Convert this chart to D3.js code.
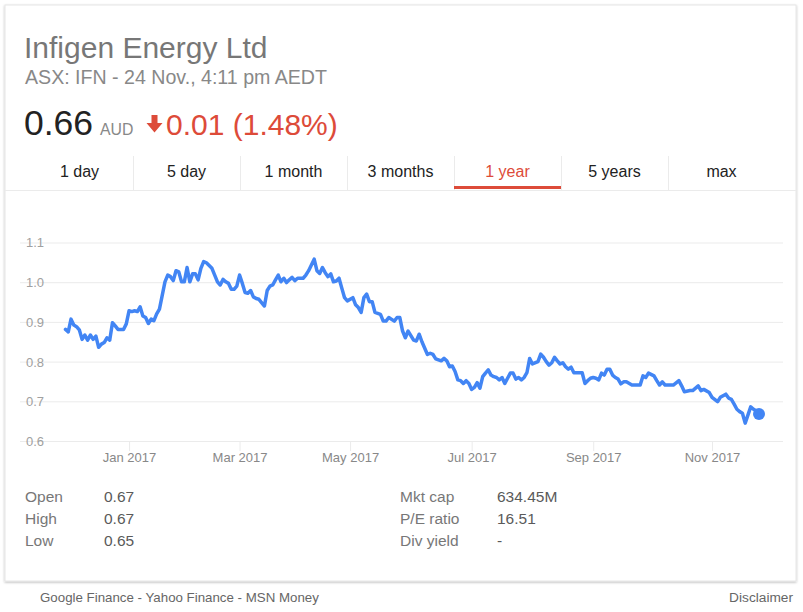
<!DOCTYPE html>
<html>
<head>
<meta charset="utf-8">
<script src="https://cdn.jsdelivr.net/npm/d3@7"></script>
<style>
  html, body { margin: 0; padding: 0; background: #fff; }
  svg { display: block; font-family: Arial, "Liberation Sans", sans-serif; }
</style>
</head>
<body>
<svg id="chart" width="803" height="612"></svg>
<script>
// ---- data ----
const tradingDay = [0,1,2,3,4,5,6,7,8,9,10,11,12,13,14,15,16,17,18,19,21,22,23,24,25,26,27,28,29,30,31,32,33,34,36,37,38,39,40,41,42,43,44,45,46,47,48,49,50,51,53,54,55,56,57,58,59,60,61,62,63,64,65,66,67,68,69,70,72,73,74,75,76,77,78,79,80,81,82,83,84,86,87,88,90,91,92,93,94,95,96,97,98,99,100,101,102,104,105,106,107,108,109,110,111,112,114,115,116,117,119,120,121,122,123,124,126,127,128,129,131,132,133,134,136,137,138,139,140,141,142,143,144,145,146,147,148,149,150,151,152,153,154,155,156,157,158,159,160,161,162,163,164,165,166,167,168,169,171,172,173,174,175,176,177,178,179,180,181,182,183,184,185,187,188,189,190,191,192,193,194,195,196,197,198,199,200,201,202,203,205,207,208,209,210,211,213,214,215,216,217,219,220,222,223,224,226,227,229,230,231,233,234,236,237,239,240,241,242,243,244,245,246,248,249,250,251];
const price = [0.881,0.875,0.907,0.892,0.888,0.880,0.856,0.867,0.854,0.867,0.856,0.864,0.836,0.844,0.848,0.860,0.854,0.898,0.890,0.881,0.881,0.895,0.928,0.926,0.928,0.926,0.938,0.915,0.911,0.896,0.907,0.903,0.920,0.932,1.001,1.018,1.014,1.004,1.029,1.026,1.001,1.001,1.037,1.001,1.021,1.021,1.006,1.035,1.052,1.049,1.035,1.018,1.001,0.993,1.007,1.001,0.997,0.982,0.982,0.990,1.018,0.997,0.974,0.972,0.979,0.963,0.959,0.957,0.940,0.979,0.990,0.993,1.006,1.018,1.001,1.010,0.999,1.006,1.012,1.004,1.010,1.010,1.018,1.029,1.058,1.029,1.022,1.037,1.024,1.014,1.021,1.001,1.003,1.010,0.985,0.961,0.953,0.961,0.943,0.936,0.924,0.961,0.970,0.951,0.951,0.924,0.919,0.902,0.902,0.911,0.902,0.911,0.911,0.877,0.860,0.877,0.854,0.852,0.869,0.850,0.818,0.821,0.818,0.807,0.802,0.808,0.802,0.787,0.789,0.775,0.754,0.752,0.745,0.752,0.745,0.730,0.735,0.747,0.733,0.762,0.771,0.779,0.766,0.762,0.760,0.754,0.760,0.745,0.758,0.771,0.771,0.756,0.760,0.754,0.760,0.772,0.808,0.794,0.800,0.819,0.811,0.800,0.791,0.797,0.811,0.802,0.794,0.797,0.787,0.781,0.786,0.772,0.772,0.772,0.745,0.752,0.758,0.760,0.758,0.754,0.771,0.766,0.781,0.781,0.766,0.760,0.756,0.744,0.749,0.749,0.741,0.741,0.741,0.764,0.760,0.771,0.764,0.752,0.741,0.749,0.741,0.741,0.741,0.752,0.739,0.724,0.727,0.727,0.739,0.727,0.730,0.722,0.710,0.699,0.710,0.718,0.708,0.705,0.693,0.680,0.674,0.670,0.645,0.686,0.680,0.676,0.668];
const yTicks = [0.6, 0.7, 0.8, 0.9, 1.0, 1.1];
const monthTickDay = [23, 63, 103, 147, 191, 234];
const monthLabels = ["Jan 2017", "Mar 2017", "May 2017", "Jul 2017", "Sep 2017", "Nov 2017"];
const tabs = ["1 day", "5 day", "1 month", "3 months", "1 year", "5 years", "max"];
const selectedTab = "1 year";
const statsLeft = [["Open", "0.67"], ["High", "0.67"], ["Low", "0.65"]];
const statsRight = [["Mkt cap", "634.45M"], ["P/E ratio", "16.51"], ["Div yield", "-"]];

const svg = d3.select("#chart");
const RED = "#dd4b39", BLUE = "#4285f4", GRID = "#ebebeb";

// card with shadow
const defs = svg.append("defs");
const f = defs.append("filter").attr("id", "sh").attr("x", "-5%").attr("y", "-5%").attr("width", "110%").attr("height", "110%");
f.append("feDropShadow").attr("dx", 0).attr("dy", 1).attr("stdDeviation", 1.2).attr("flood-color", "#000").attr("flood-opacity", 0.28);
svg.append("rect").attr("x", 5).attr("y", 5).attr("width", 791).attr("height", 576)
  .attr("fill", "#fff").attr("stroke", "#e6e6e6").attr("stroke-width", 1).attr("filter", "url(#sh)");

// header
svg.append("text").attr("x", 24).attr("y", 57.5).attr("font-size", 30).attr("fill", "#777").text("Infigen Energy Ltd");
svg.append("text").attr("x", 25).attr("y", 83.5).attr("font-size", 19.6).attr("fill", "#888").text("ASX: IFN - 24 Nov., 4:11 pm AEDT");
svg.append("text").attr("x", 24).attr("y", 135).attr("font-size", 35.5).attr("fill", "#222").text("0.66");
svg.append("text").attr("x", 100).attr("y", 135).attr("font-size", 15.8).attr("fill", "#888").text("AUD");
// down arrow
svg.append("path").attr("fill", RED)
  .attr("d", "M151.5,115 H157.5 V123 H162.5 L154.5,132.5 L146.5,123 H151.5 Z");
svg.append("text").attr("x", 166).attr("y", 135).attr("font-size", 30).attr("fill", RED).text("0.01 (1.48%)");

// tabs
const tabX = d3.scaleBand().domain(tabs).range([26, 775]);
svg.append("line").attr("x1", 5).attr("x2", 796).attr("y1", 190.5).attr("y2", 190.5).attr("stroke", GRID);
const tg = svg.append("g");
tabs.forEach((t, i) => {
  if (i > 0) tg.append("line").attr("x1", tabX(t) + 0.5).attr("x2", tabX(t) + 0.5).attr("y1", 156).attr("y2", 190).attr("stroke", GRID);
  tg.append("text").attr("x", tabX(t) + tabX.bandwidth() / 2).attr("y", 177).attr("text-anchor", "middle")
    .attr("font-size", 16).attr("fill", t === selectedTab ? RED : "#222").text(t);
});
svg.append("rect").attr("x", tabX(selectedTab)).attr("y", 186).attr("width", tabX.bandwidth()).attr("height", 3).attr("fill", RED);

// chart scales
const x = d3.scaleLinear().domain([0, 251]).range([65.5, 759]);
const y = d3.scaleLinear().domain([0.6, 1.1]).range([441, 242.5]);

// y grid + labels
const yAxis = svg.append("g").attr("transform", "translate(20,0)")
  .call(d3.axisRight(y).tickValues(yTicks).tickSize(763).tickFormat(d3.format(".1f")));
yAxis.select(".domain").remove();
yAxis.selectAll(".tick line").attr("stroke", GRID);
yAxis.selectAll(".tick text").attr("x", 6).attr("dy", "0.34em").attr("font-size", 13)
  .attr("font-family", "Arial, 'Liberation Sans', sans-serif").attr("fill", "#a0a0a0").attr("text-anchor", "start");

// x axis
const xAxis = svg.append("g").attr("transform", "translate(0,441)")
  .call(d3.axisBottom(x).tickValues(monthTickDay).tickSize(10).tickFormat((d, i) => monthLabels[i]));
xAxis.select(".domain").remove();
xAxis.selectAll(".tick line").attr("stroke", GRID);
xAxis.selectAll(".tick text").attr("y", 12).attr("dy", "0.71em").attr("font-size", 13)
  .attr("font-family", "Arial, 'Liberation Sans', sans-serif").attr("fill", "#888");

// line
const pts = tradingDay.map((d, i) => [d, price[i]]);
svg.append("path").datum(pts)
  .attr("fill", "none").attr("stroke", BLUE).attr("stroke-width", 3.5)
  .attr("stroke-linejoin", "round").attr("stroke-linecap", "round")
  .attr("d", d3.line().x(d => x(d[0])).y(d => y(d[1])));
const last = pts[pts.length - 1];
svg.append("circle").attr("cx", x(last[0])).attr("cy", y(last[1])).attr("r", 6).attr("fill", BLUE);

// stats
const rowY = [502, 524, 546];
statsLeft.forEach((s, i) => {
  svg.append("text").attr("x", 25).attr("y", rowY[i]).attr("font-size", 15.5).attr("fill", "#777").text(s[0]);
  svg.append("text").attr("x", 104).attr("y", rowY[i]).attr("font-size", 15.5).attr("fill", "#5a5a5a").text(s[1]);
});
statsRight.forEach((s, i) => {
  svg.append("text").attr("x", 400).attr("y", rowY[i]).attr("font-size", 15.5).attr("fill", "#777").text(s[0]);
  svg.append("text").attr("x", 497).attr("y", rowY[i]).attr("font-size", 15.5).attr("fill", "#5a5a5a").text(s[1]);
});

// footer
svg.append("text").attr("x", 40).attr("y", 602).attr("font-size", 13.3).attr("fill", "#666").text("Google Finance - Yahoo Finance - MSN Money");
svg.append("text").attr("x", 793).attr("y", 602).attr("font-size", 13.7).attr("fill", "#666").attr("text-anchor", "end").text("Disclaimer");
</script>
</body>
</html>
